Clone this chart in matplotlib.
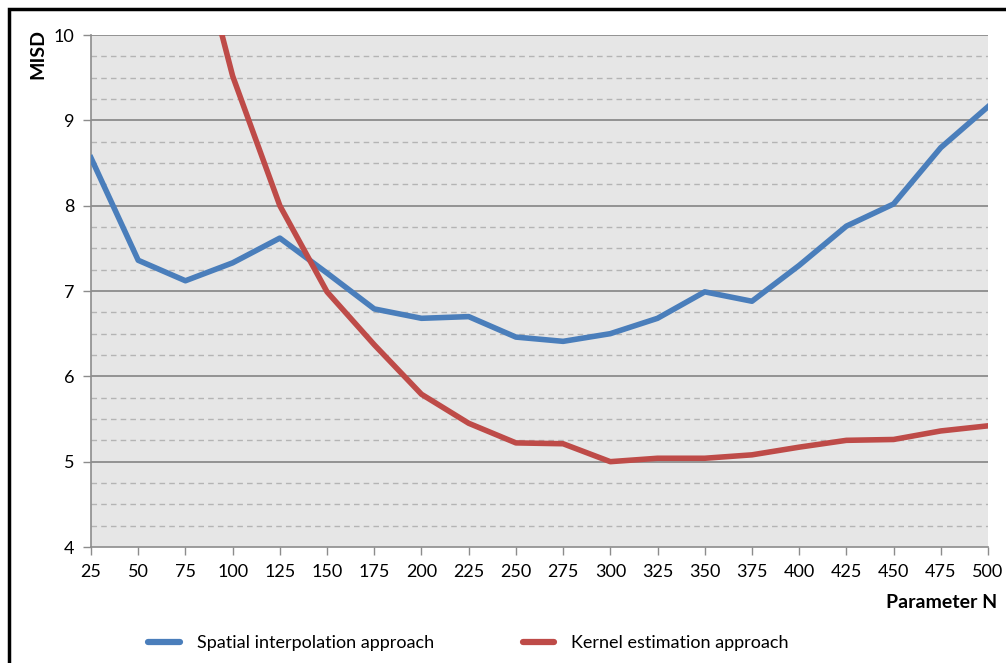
import matplotlib
matplotlib.use("Agg")
import matplotlib.pyplot as plt
from matplotlib.patches import Rectangle
from matplotlib.lines import Line2D
import numpy as np

x_n = [25, 50, 75, 100, 125, 150, 175, 200, 225, 250, 275, 300, 325, 350, 375, 400, 425, 450, 475, 500]
spatial = [8.56, 7.36, 7.12, 7.33, 7.62, 7.21, 6.79, 6.68, 6.70, 6.46, 6.41, 6.50, 6.68, 6.99, 6.88, 7.30, 7.76, 8.02, 8.68, 9.16]
kernel_x = [75, 100, 125, 150, 175, 200, 225, 250, 275, 300, 325, 350, 375, 400, 425, 450, 475, 500]
kernel = [11.65, 9.52, 8.00, 6.99, 6.37, 5.79, 5.45, 5.22, 5.21, 5.00, 5.04, 5.04, 5.08, 5.17, 5.25, 5.26, 5.36, 5.42]
y_ticks = [4, 5, 6, 7, 8, 9, 10]

plt.rcParams['font.family'] = ['Lato', 'DejaVu Sans']

W, H = 1006, 663
fig = plt.figure(figsize=(W / 100, H / 100), dpi=100)
ax = fig.add_axes([91 / W, 1 - 547 / H, (988 - 91) / W, (547 - 35) / H])
ax.set_facecolor('#e6e6e6')

# gridlines
for v in np.arange(4.25, 10, 0.25):
    if abs(v - round(v)) > 1e-6:
        ax.axhline(v, color='#b4b4b4', lw=1.0, ls=(0, (4, 3)), zorder=1)
for v in y_ticks[1:]:
    ax.axhline(v, color='#8c8c8c', lw=1.3, zorder=1)

blue = '#4a7ebb'
red = '#be4b48'
ax.plot(x_n, spatial, color=blue, lw=4, solid_joinstyle='round', zorder=3, clip_on=True)
ax.plot(kernel_x, kernel, color=red, lw=4, solid_joinstyle='round', zorder=3, clip_on=True)

ax.set_xlim(25, 500)
ax.set_ylim(4, 10)
ax.set_xticks(x_n)
ax.set_yticks(y_ticks)
ax.tick_params(axis='both', direction='out', length=6, width=1, color='#8c8c8c', labelsize=13, pad=6)
for s in ['top', 'right']:
    ax.spines[s].set_visible(False)
for s in ['left', 'bottom']:
    ax.spines[s].set_color('#8c8c8c')
    ax.spines[s].set_linewidth(1.2)

fig.text(38 / W, 1 - 54 / H, 'MISD', rotation=90, fontsize=14, fontweight='bold', ha='center', va='center')
fig.text(997 / W, 1 - 602 / H, 'Parameter N', fontsize=14, fontweight='bold', ha='right', va='center')

# legend
handles = [Line2D([0], [0], color=blue, lw=4.5, solid_capstyle='round'),
           Line2D([0], [0], color=red, lw=4.5, solid_capstyle='round')]
fig.legend(handles, ['Spatial interpolation approach', 'Kernel estimation approach'],
           loc='center left', bbox_to_anchor=(132 / W, 1 - 643 / H), ncol=2, frameon=False,
           fontsize=13, handlelength=1.75, columnspacing=4.9, handletextpad=0.95)

# outer frame
fig.patches.append(Rectangle((9 / W, -0.05), 1.1, 1 - 9 / H + 0.05, transform=fig.transFigure,
                             fill=False, edgecolor='black', lw=2.5, zorder=10))

fig.savefig('out.png', dpi=100)
